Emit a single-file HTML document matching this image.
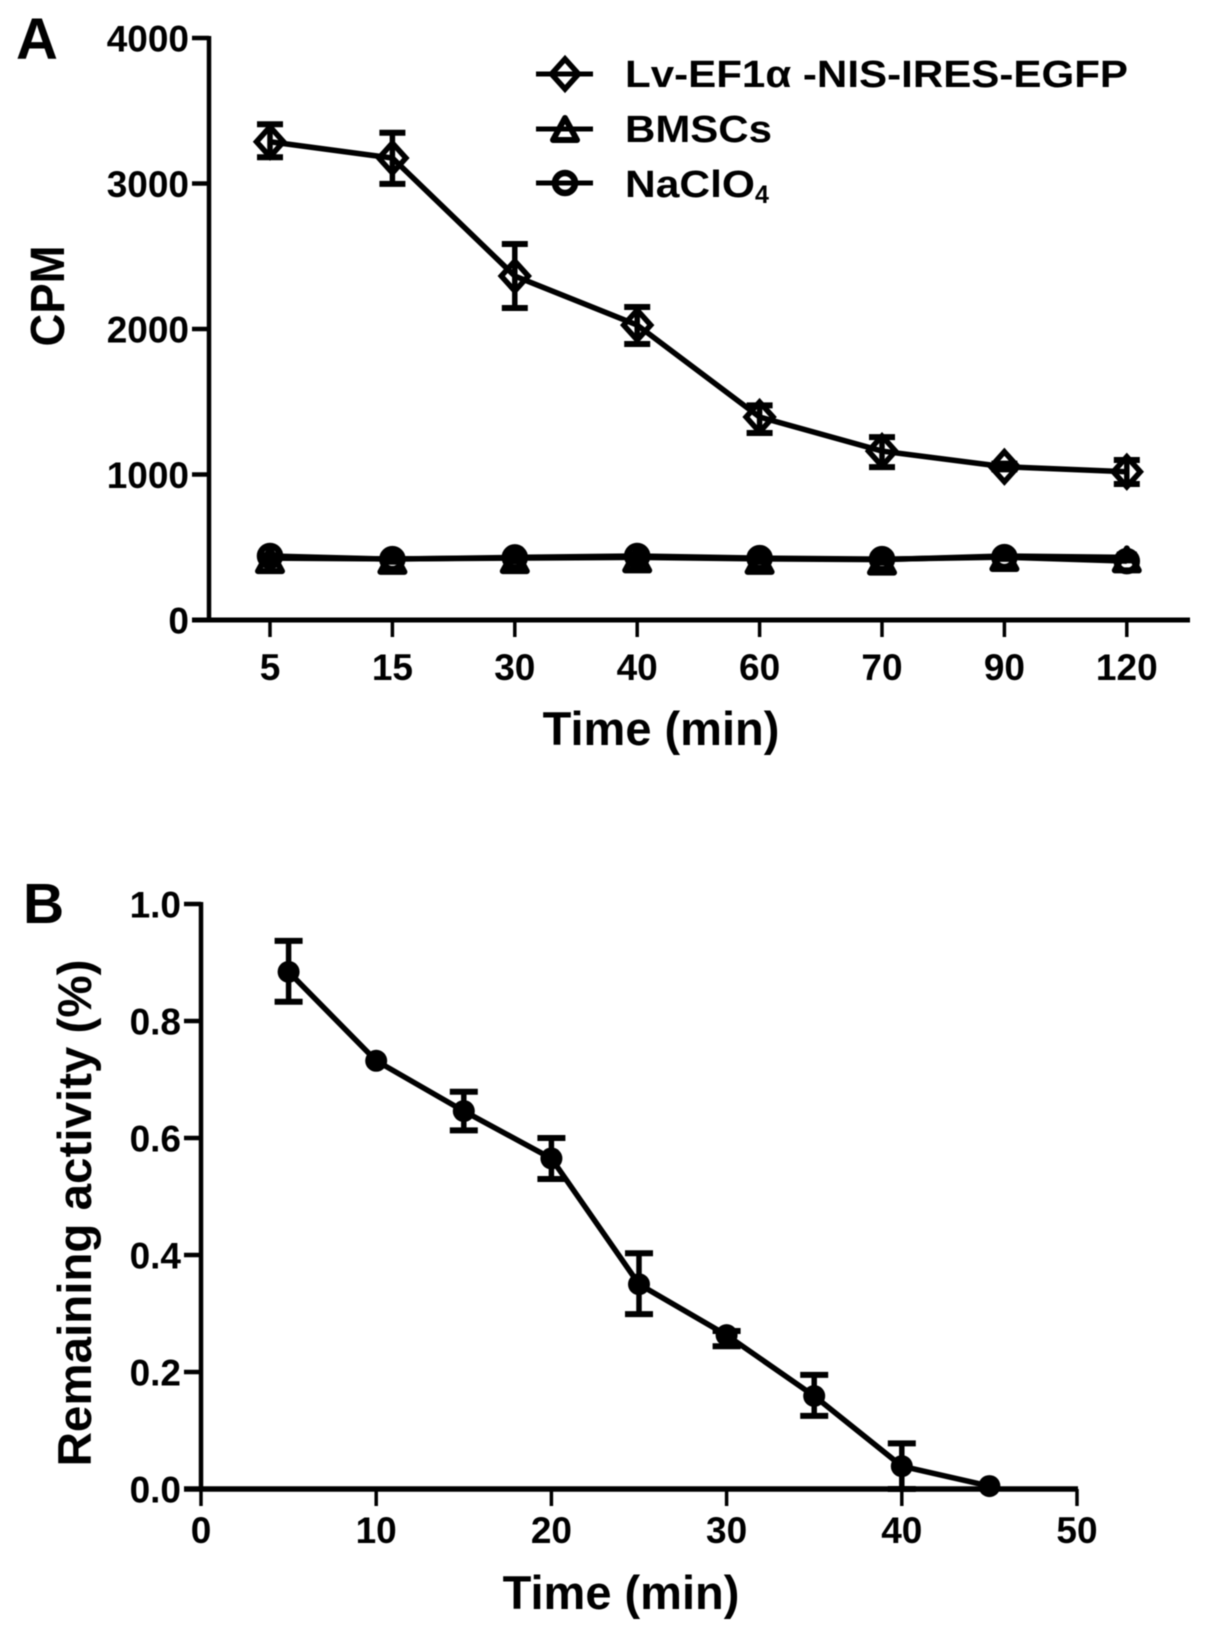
<!DOCTYPE html>
<html lang="en">
<head>
<meta charset="utf-8">
<title>CPM and remaining activity over time</title>
<style>
html,body{margin:0;padding:0;background:#fff;width:1205px;height:1631px;overflow:hidden}
svg{display:block;filter:blur(.6px)}
text{font-family:"Liberation Sans",sans-serif;font-weight:bold;fill:#000}
</style>
</head>
<body>
<svg id="figure" xmlns="http://www.w3.org/2000/svg" width="1205" height="1631" viewBox="0 0 1205 1631">
  <rect x="0" y="0" width="1205" height="1631" fill="#fff"/>
  <g id="panel-a">
    <text x="16" y="59" font-size="58">A</text>
    <text transform="translate(64,296) rotate(-90)" text-anchor="middle" font-size="48" textLength="101" lengthAdjust="spacingAndGlyphs">CPM</text>
    <text x="661" y="745" text-anchor="middle" font-size="47">Time (min)</text>
  </g>
  <g id="legend">
    <text x="625" y="87" font-size="38" textLength="503" lengthAdjust="spacingAndGlyphs">Lv-EF1α -NIS-IRES-EGFP</text>
    <text x="625" y="142" font-size="38" textLength="147" lengthAdjust="spacingAndGlyphs">BMSCs</text>
    <text x="625" y="197" font-size="38" textLength="130" lengthAdjust="spacingAndGlyphs">NaClO</text>
    <text x="755" y="203" font-size="25">4</text>
  </g>
  <g id="panel-b">
    <text x="23" y="923" font-size="57">B</text>
    <text transform="translate(91,1213) rotate(-90)" text-anchor="middle" font-size="47.5">Remaining activity (%)</text>
    <text x="621" y="1609" text-anchor="middle" font-size="47">Time (min)</text>
  </g>
</svg>
<script>
// Panel A data
const categoriesA = ["5", "15", "30", "40", "60", "70", "90", "120"];
const yTicksA = [0, 1000, 2000, 3000, 4000];
const lvValues = [3287, 3175, 2364, 2027, 1395, 1161, 1053, 1019];
const lvUpper = [3407, 3349, 2584, 2151, 1475, 1257, 1075, 1100];
const lvLower = [3180, 2997, 2144, 1897, 1285, 1051, 1035, 935];
const bmscValues = [425, 420, 425, 430, 420, 415, 440, 430];
const bmscUpper = [445, 440, 445, 450, 440, 435, 460, 450];
const bmscLower = [405, 400, 405, 410, 400, 395, 420, 410];
const nacloValues = [440, 418, 430, 440, 425, 418, 432, 405];
// Panel B data
const xTicksB = [0, 10, 20, 30, 40, 50];
const yTicksB = [0, 0.2, 0.4, 0.6, 0.8, 1.0];
const timesB = [5, 10, 15, 20, 25, 30, 35, 40, 45];
const activityValues = [0.884, 0.732, 0.646, 0.565, 0.350, 0.263, 0.159, 0.039, 0.005];
const activityUpper = [0.937, 0.732, 0.679, 0.600, 0.403, 0.270, 0.195, 0.078, 0.005];
const activityLower = [0.833, 0.732, 0.613, 0.530, 0.299, 0.244, 0.125, 0.000, 0.005];

const SVG_NS = "http://www.w3.org/2000/svg";
const panelA = document.getElementById("panel-a");
const panelB = document.getElementById("panel-b");
const legendGroup = document.getElementById("legend");

// Axis functions
function xA(i) { return 270 + i * 122.4; }
function yA(v) { return 620 - v * 0.1455; }
function xB(v) { return 201 + v * 17.52; }
function yB(v) { return 1489 - v * 585; }

function make(tag, parent, props) {
  const el = document.createElementNS(SVG_NS, tag);
  for (const k in props) el.setAttribute(k, props[k]);
  parent.appendChild(el);
  return el;
}
function seg(parent, x1, y1, x2, y2, w, name) {
  const el = make("line", parent, { x1: x1, y1: y1, x2: x2, y2: y2, stroke: "#000", "stroke-width": w });
  
  
  return el;
}
function label(parent, x, y, str, anchor, name) {
  const el = make("text", parent, { x: x, y: y, "text-anchor": anchor, "font-size": 37 });
  el.textContent = str;
  
  
  return el;
}
function polyline(parent, pts, w, name) {
  const el = make("polyline", parent, { points: pts.join(" "), fill: "none", stroke: "#000", "stroke-width": w, "stroke-linejoin": "round" });
  
  
  return el;
}
function errorBar(parent, x, yTop, yBot, capW, name) {
  seg(parent, x, yTop, x, yBot, 5.5, name + "-stem");
  seg(parent, x - capW, yTop, x + capW, yTop, 6, name + "-cap-top");
  seg(parent, x - capW, yBot, x + capW, yBot, 6, name + "-cap-bottom");
}
function diamond(parent, x, y, name) {
  const el = make("polygon", parent, {
    points: (x) + "," + (y - 15) + " " + (x + 13.5) + "," + y + " " + (x) + "," + (y + 15) + " " + (x - 13.5) + "," + y,
    fill: "none", stroke: "#000", "stroke-width": 5.5 });
  
  
  return el;
}
function triangle(parent, x, y, name) {
  const el = make("polygon", parent, {
    points: x + "," + (y - 12) + " " + (x + 12) + "," + (y + 10) + " " + (x - 12) + "," + (y + 10),
    fill: "none", stroke: "#000", "stroke-width": 6, "stroke-linejoin": "round" });
  
  
  return el;
}
function circle(parent, x, y, r, sw, fill, name) {
  const el = make("circle", parent, { cx: x, cy: y, r: r, fill: fill, stroke: "#000", "stroke-width": sw });
  
  
  return el;
}

// Panel A axes
seg(panelA, 209, yA(4000) - 2, 209, yA(0) + 2, 4.5, "y-axis-a");
seg(panelA, 192, yA(0), 1190, yA(0), 5, "x-axis-a");
yTicksA.forEach(function (v) {
  seg(panelA, 192, yA(v), 209, yA(v), 4.5, "y-tick-a-" + v);
  label(panelA, 189, yA(v) + 13.5, String(v), "end", "y-tick-label-a-" + v);
});
categoriesA.forEach(function (c, i) {
  seg(panelA, xA(i), yA(0), xA(i), 637, 3.5, "x-tick-a-" + c);
  label(panelA, xA(i), 680, c, "middle", "x-tick-label-a-" + c);
});

// Panel A series
polyline(panelA, bmscValues.map(function (v, i) { return xA(i) + "," + yA(v); }), 5.5, "series-bmscs-line");
polyline(panelA, nacloValues.map(function (v, i) { return xA(i) + "," + yA(v); }), 5.5, "series-naclo4-line");
bmscValues.forEach(function (v, i) {
  errorBar(panelA, xA(i), yA(bmscUpper[i]), yA(bmscLower[i]), 10, "bmscs-error-" + categoriesA[i]);
  triangle(panelA, xA(i), yA(v) + 3, "bmscs-point-" + categoriesA[i]);
});
nacloValues.forEach(function (v, i) {
  circle(panelA, xA(i), yA(v), 10, 6.5, "none", "naclo4-point-" + categoriesA[i]);
});
polyline(panelA, lvValues.map(function (v, i) { return xA(i) + "," + yA(v); }), 5.5, "series-lv-line");
lvValues.forEach(function (v, i) {
  errorBar(panelA, xA(i), yA(lvUpper[i]), yA(lvLower[i]), 13, "lv-error-" + categoriesA[i]);
  diamond(panelA, xA(i), yA(v), "lv-point-" + categoriesA[i]);
});

// Legend keys
seg(legendGroup, 536, 74, 593, 74, 5, "legend-line-lv");
diamond(legendGroup, 565, 74, "legend-marker-lv");
seg(legendGroup, 536, 129, 593, 129, 5, "legend-line-bmscs");
triangle(legendGroup, 565, 130, "legend-marker-bmscs");
seg(legendGroup, 536, 183, 593, 183, 5, "legend-line-naclo4");
circle(legendGroup, 565, 183, 10, 6.5, "none", "legend-marker-naclo4");

// Panel B axes
seg(panelB, 201, yB(1) - 2, 201, yB(0) + 2, 4.5, "y-axis-b");
seg(panelB, 184, yB(0), 1078, yB(0), 5.5, "x-axis-b");
yTicksB.forEach(function (v) {
  seg(panelB, 184, yB(v), 201, yB(v), 4.5, "y-tick-b-" + v.toFixed(1));
  label(panelB, 181, yB(v) + 13.5, v.toFixed(1), "end", "y-tick-label-b-" + v.toFixed(1));
});
xTicksB.forEach(function (v) {
  seg(panelB, xB(v), yB(0), xB(v), 1506, 3.5, "x-tick-b-" + v);
  label(panelB, xB(v), 1543, String(v), "middle", "x-tick-label-b-" + v);
});

// Panel B series
polyline(panelB, timesB.map(function (t, i) { return xB(t) + "," + yB(activityValues[i]); }), 5.5, "series-activity-line");
timesB.forEach(function (t, i) {
  if (activityUpper[i] !== activityLower[i]) {
    errorBar(panelB, xB(t), yB(activityUpper[i]), yB(activityLower[i]), 14, "activity-error-" + t);
  }
  circle(panelB, xB(t), yB(activityValues[i]), 11, 0, "#000", "activity-point-" + t);
});
</script>
</body>
</html>
